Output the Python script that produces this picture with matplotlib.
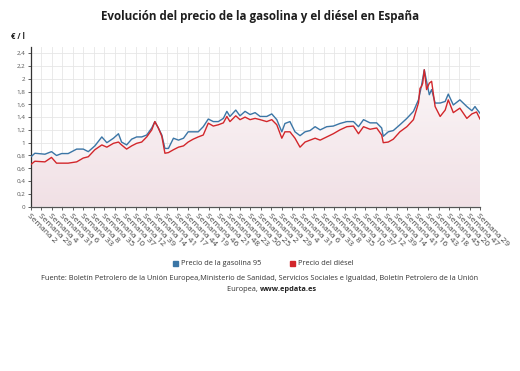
import numpy as np
import matplotlib.pyplot as plt

# weekly index (approximate positions of readings) and prices in EUR/l
weeks = [0, 10, 36, 53, 66, 79, 96, 118, 135, 148, 165, 183, 196, 213, 226, 234,
         247, 260, 273, 286, 299, 312, 320, 329, 338, 346, 355, 368, 381, 394,
         406, 419, 432, 445, 458, 471, 484, 497, 506, 514, 529, 540, 553, 566,
         579, 592, 609, 622, 635, 648, 656, 669, 682, 695, 708, 721, 734, 747,
         764, 781, 798, 816, 833, 846, 859, 876, 893, 906, 910, 923, 936, 953,
         971, 988, 1001, 1005, 1009, 1012, 1016, 1022, 1029, 1035, 1044, 1057,
         1070, 1078, 1091, 1108, 1126, 1139, 1147, 1151, 1160]

gasolina = [0.78, 0.835, 0.82, 0.86, 0.80, 0.83, 0.83, 0.90, 0.90, 0.86, 0.95,
            1.09, 1.00, 1.07, 1.14, 1.01, 0.965, 1.055, 1.09, 1.09, 1.12, 1.23,
            1.33, 1.23, 1.12, 0.91, 0.91, 1.07, 1.04, 1.07, 1.17, 1.17, 1.17,
            1.25, 1.37, 1.33, 1.33, 1.38, 1.49, 1.41, 1.51, 1.42, 1.49, 1.44,
            1.47, 1.41, 1.41, 1.45, 1.36, 1.17, 1.30, 1.33, 1.17, 1.11, 1.17,
            1.19, 1.25, 1.20, 1.25, 1.26, 1.30, 1.33, 1.33, 1.25, 1.36, 1.31,
            1.31, 1.23, 1.10, 1.17, 1.19, 1.28, 1.38, 1.49, 1.67, 1.78, 1.90,
            2.00, 2.14, 1.96, 1.75, 1.83, 1.62, 1.62, 1.645, 1.76, 1.59, 1.67,
            1.565, 1.50, 1.565, 1.53, 1.46]

diesel = [0.66, 0.71, 0.70, 0.77, 0.68, 0.68, 0.68, 0.70, 0.76, 0.78, 0.89,
          0.965, 0.93, 0.99, 1.01, 0.965, 0.90, 0.95, 0.99, 1.01, 1.09, 1.20,
          1.33, 1.23, 1.10, 0.835, 0.845, 0.89, 0.93, 0.95, 1.01, 1.055, 1.09,
          1.12, 1.305, 1.26, 1.28, 1.31, 1.41, 1.33, 1.42, 1.36, 1.40, 1.36,
          1.38, 1.36, 1.33, 1.36, 1.28, 1.07, 1.17, 1.17, 1.07, 0.93, 1.01,
          1.04, 1.07, 1.04, 1.09, 1.14, 1.20, 1.25, 1.26, 1.14, 1.25, 1.21,
          1.23, 1.12, 1.00, 1.01, 1.055, 1.17, 1.25, 1.36, 1.62, 1.85, 1.88,
          1.93, 2.14, 1.83, 1.93, 1.96, 1.565, 1.41, 1.51, 1.67, 1.47, 1.54,
          1.38, 1.45, 1.47, 1.48, 1.37]

semanas = ["Semana 2", "Semana 29", "Semana 4", "Semana 31", "Semana 6",
           "Semana 33", "Semana 8", "Semana 35", "Semana 10", "Semana 37",
           "Semana 12", "Semana 39", "Semana 14", "Semana 41", "Semana 17",
           "Semana 44", "Semana 19", "Semana 46", "Semana 21", "Semana 48",
           "Semana 23", "Semana 50", "Semana 25", "Semana 2", "Semana 29",
           "Semana 4", "Semana 31", "Semana 6", "Semana 33", "Semana 8",
           "Semana 35", "Semana 10", "Semana 37", "Semana 12", "Semana 39",
           "Semana 14", "Semana 41", "Semana 16", "Semana 43", "Semana 18",
           "Semana 45", "Semana 20", "Semana 47"]
ultima_semana = "Semana 29"

plt.rcParams['font.family'] = ['Open Sans', 'DejaVu Sans']

fig = plt.figure(figsize=(5.2, 3.71), dpi=100)
ax = fig.add_axes([0.0596, 0.443, 0.8635, 0.431])

c_gas = '#3b76a6'
c_die = '#d2262b'

ax.set_xlim(0, weeks[-1])
ax.set_ylim(0, 2.5)

# soft pink gradient under the curves
area = ax.fill_between(weeks, 0, gasolina, color='none', lw=0)
grad = np.linspace(0.0, 1.0, 256).reshape(-1, 1)
img = ax.imshow(grad, extent=[0, weeks[-1], 0, 2.2], origin='upper',
                cmap=plt.matplotlib.colors.LinearSegmentedColormap.from_list(
                    'pk', ['#fbf7f8', '#f1e0e5']),
                aspect='auto', zorder=1)
img.set_clip_path(area.get_paths()[0], transform=ax.transData)
ax.fill_between(weeks, diesel, gasolina, color='white', alpha=0.45, zorder=2, lw=0)

ax.plot(weeks, gasolina, color=c_gas, lw=1.0, zorder=3)
ax.plot(weeks, diesel, color=c_die, lw=1.0, zorder=4)

ax.set_xlim(0, weeks[-1])
ax.set_ylim(0, 2.5)

yt = np.arange(0, 2.41, 0.2)
ax.set_yticks(yt)
ax.set_yticklabels([('%g' % round(v, 1)).replace('.', ',') for v in yt],
                   fontsize=4.5, color='#555555')

xt = list(range(0, 27 * len(semanas), 27)) + [weeks[-1]]
ax.set_xticks(xt)
ax.set_xticklabels(semanas + [ultima_semana], rotation=-45, ha='left',
                   rotation_mode='anchor', fontsize=6, color='#444444')
ax.tick_params(axis='x', length=2, width=0.6, color='#444444', pad=2)
ax.tick_params(axis='y', length=2, width=0.6, color='#444444', pad=2)

ax.grid(True, color='#e6e6e6', lw=0.6, zorder=0)
ax.set_axisbelow(True)
for s in ['top', 'right']:
    ax.spines[s].set_visible(False)
ax.spines['left'].set_color('#333333')
ax.spines['bottom'].set_color('#555555')
ax.spines['left'].set_linewidth(0.9)
ax.spines['bottom'].set_linewidth(0.9)

fig.text(0.5, 0.955, 'Evolución del precio de la gasolina y el diésel en España',
         ha='center', va='center', fontsize=8.4, fontweight='bold', color='#1e1e1e')
fig.text(0.021, 0.902, '€ / l', ha='left', va='center', fontsize=5.5,
         fontweight='bold', color='#222222')

# legend
fig.patches.append(plt.Rectangle((0.333, 0.283), 0.010, 0.014, color=c_gas,
                                 transform=fig.transFigure, figure=fig))
fig.text(0.349, 0.290, 'Precio de la gasolina 95', ha='left', va='center',
         fontsize=5.3, color='#333333')
fig.patches.append(plt.Rectangle((0.558, 0.283), 0.010, 0.014, color=c_die,
                                 transform=fig.transFigure, figure=fig))
fig.text(0.574, 0.290, 'Precio del diésel', ha='left', va='center',
         fontsize=5.3, color='#333333')

fig.text(0.5, 0.250, 'Fuente: Boletín Petrolero de la Unión Europea,Ministerio de Sanidad, '
         'Servicios Sociales e Igualdad, Boletín Petrolero de la Unión',
         ha='center', va='center', fontsize=5.3, color='#333333')
fig.text(0.5, 0.220, 'Europea, ', ha='right', va='center', fontsize=5.3,
         color='#333333')
fig.text(0.5, 0.220, 'www.epdata.es', ha='left', va='center', fontsize=5.3,
         color='#222222', fontweight='bold')

fig.savefig('out.png', dpi=100)
